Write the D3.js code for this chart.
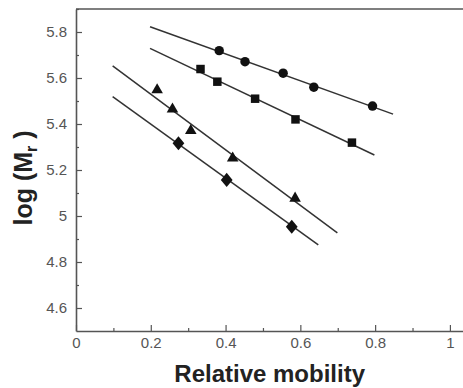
<!DOCTYPE html>
<html>
<head>
<meta charset="utf-8">
<script src="https://cdn.jsdelivr.net/npm/d3@7"></script>
<style>
  body { margin: 0; background: #fff; }
  svg { display: block; font-family: "Liberation Sans", Arial, sans-serif; }
</style>
</head>
<body>
<div id="graph"></div>
<script>
// marker data
const circleX = [0.383, 0.452, 0.554, 0.636, 0.793];
const circleY = [5.719, 5.671, 5.621, 5.560, 5.478];
const squareX = [0.333, 0.378, 0.479, 0.587, 0.738];
const squareY = [5.639, 5.584, 5.510, 5.420, 5.319];
const triangleX = [0.217, 0.258, 0.307, 0.419, 0.586];
const triangleY = [5.548, 5.464, 5.371, 5.251, 5.077];
const diamondX = [0.274, 0.403, 0.577];
const diamondY = [5.316, 5.157, 4.953];

// fitted lines: [x start, x end] and [y start, y end]
const circleFitX = [0.198, 0.848], circleFitY = [5.823, 5.443];
const squareFitX = [0.198, 0.798], squareFitY = [5.729, 5.265];
const triangleFitX = [0.098, 0.699], triangleFitY = [5.653, 4.927];
const diamondFitX = [0.098, 0.648], diamondFitY = [5.519, 4.874];

const xTicks = [0, 0.2, 0.4, 0.6, 0.8, 1];
const xMinor = [0.1, 0.3, 0.5, 0.7, 0.9];
const yTicks = [4.6, 4.8, 5, 5.2, 5.4, 5.6, 5.8];
const yMinor = [4.7, 4.9, 5.1, 5.3, 5.5, 5.7, 5.9];

const width = 463, height = 388;
const margin = { top: 9, right: 0, bottom: 57, left: 76 };
const plotW = width - margin.left - margin.right;
const plotH = height - margin.top - margin.bottom;

const svg = d3.select('#graph').append('svg')
    .attr('width', width)
    .attr('height', height);

const root = svg.append('g')
    .attr('transform', 'translate(' + margin.left + ',' + margin.top + ')');

const x = d3.scaleLinear().domain([0, 1.035]).range([0, plotW]);
const y = d3.scaleLinear().domain([4.5, 5.9]).range([plotH, 0]);
const fmt = d3.format('~g');

const axisColor = '#555';

// top frame line
root.append('line')
    .attr('x1', 0).attr('x2', plotW)
    .attr('y1', 0).attr('y2', 0)
    .attr('stroke', axisColor).attr('stroke-width', 1.6);

// axes, ticks pointing inwards
function styleAxis(g) {
    g.select('.domain').attr('stroke', axisColor).attr('stroke-width', 1.6);
    g.selectAll('.tick line').attr('stroke', axisColor).attr('stroke-width', 1.2);
    g.selectAll('.tick text')
        .attr('fill', '#555')
        .attr('font-size', 15)
        .attr('font-family', '"Liberation Sans", Arial, sans-serif');
}

root.append('g')
    .attr('transform', 'translate(0,' + plotH + ')')
    .call(d3.axisBottom(x).tickValues(xMinor).tickSize(-3).tickFormat(''))
    .call(g => g.select('.domain').remove())
    .call(g => g.selectAll('.tick line').attr('stroke', axisColor).attr('stroke-width', 1.2));

root.append('g')
    .attr('transform', 'translate(0,' + plotH + ')')
    .call(d3.axisBottom(x).tickValues(xTicks).tickSize(-6).tickSizeOuter(0).tickPadding(6).tickFormat(fmt))
    .call(styleAxis);

root.append('g')
    .call(d3.axisLeft(y).tickValues(yMinor).tickSize(-3).tickFormat(''))
    .call(g => g.select('.domain').remove())
    .call(g => g.selectAll('.tick line').attr('stroke', axisColor).attr('stroke-width', 1.2));

root.append('g')
    .call(d3.axisLeft(y).tickValues(yTicks).tickSize(-6).tickSizeOuter(0).tickPadding(9).tickFormat(fmt))
    .call(styleAxis);

// fit lines
const fits = [
    [circleFitX, circleFitY],
    [squareFitX, squareFitY],
    [triangleFitX, triangleFitY],
    [diamondFitX, diamondFitY]
];
const line = d3.line().x(d => x(d[0])).y(d => y(d[1]));
fits.forEach(f => {
    root.append('path')
        .attr('d', line(d3.zip(f[0], f[1])))
        .attr('fill', 'none')
        .attr('stroke', '#333')
        .attr('stroke-width', 1.5);
});

// a wider diamond than d3.symbolDiamond
const wideDiamond = {
    draw(ctx, size) {
        const s = Math.sqrt(size);
        const hw = s * 0.62, hh = s * 0.74;
        ctx.moveTo(0, -hh);
        ctx.lineTo(hw, 0);
        ctx.lineTo(0, hh);
        ctx.lineTo(-hw, 0);
        ctx.closePath();
    }
};

// markers
const series = [
    { xs: circleX, ys: circleY, type: d3.symbolCircle, size: 70 },
    { xs: squareX, ys: squareY, type: d3.symbolSquare, size: 72 },
    { xs: triangleX, ys: triangleY, type: d3.symbolTriangle, size: 58 },
    { xs: diamondX, ys: diamondY, type: wideDiamond, size: 90 }
];
series.forEach(s => {
    root.selectAll(null)
        .data(d3.zip(s.xs, s.ys))
        .enter().append('path')
            .attr('d', d3.symbol().type(s.type).size(s.size))
            .attr('transform', d => 'translate(' + x(d[0]) + ',' + y(d[1]) + ')')
            .attr('fill', '#111');
});

// axis titles
svg.append('text')
    .attr('x', margin.left + x(0.518))
    .attr('y', 382)
    .attr('text-anchor', 'middle')
    .attr('font-size', 24)
    .attr('font-weight', 'bold')
    .attr('fill', '#222')
    .text('Relative mobility');

const yTitle = svg.append('text')
    .attr('transform', 'translate(32,178) rotate(-90)')
    .attr('text-anchor', 'middle')
    .attr('font-size', 25)
    .attr('font-weight', 'bold')
    .attr('fill', '#222');
yTitle.append('tspan').text('log (M');
yTitle.append('tspan').attr('font-size', 16).attr('dy', 5).text('r');
yTitle.append('tspan').attr('dy', -5).text(' )');
</script>
</body>
</html>
